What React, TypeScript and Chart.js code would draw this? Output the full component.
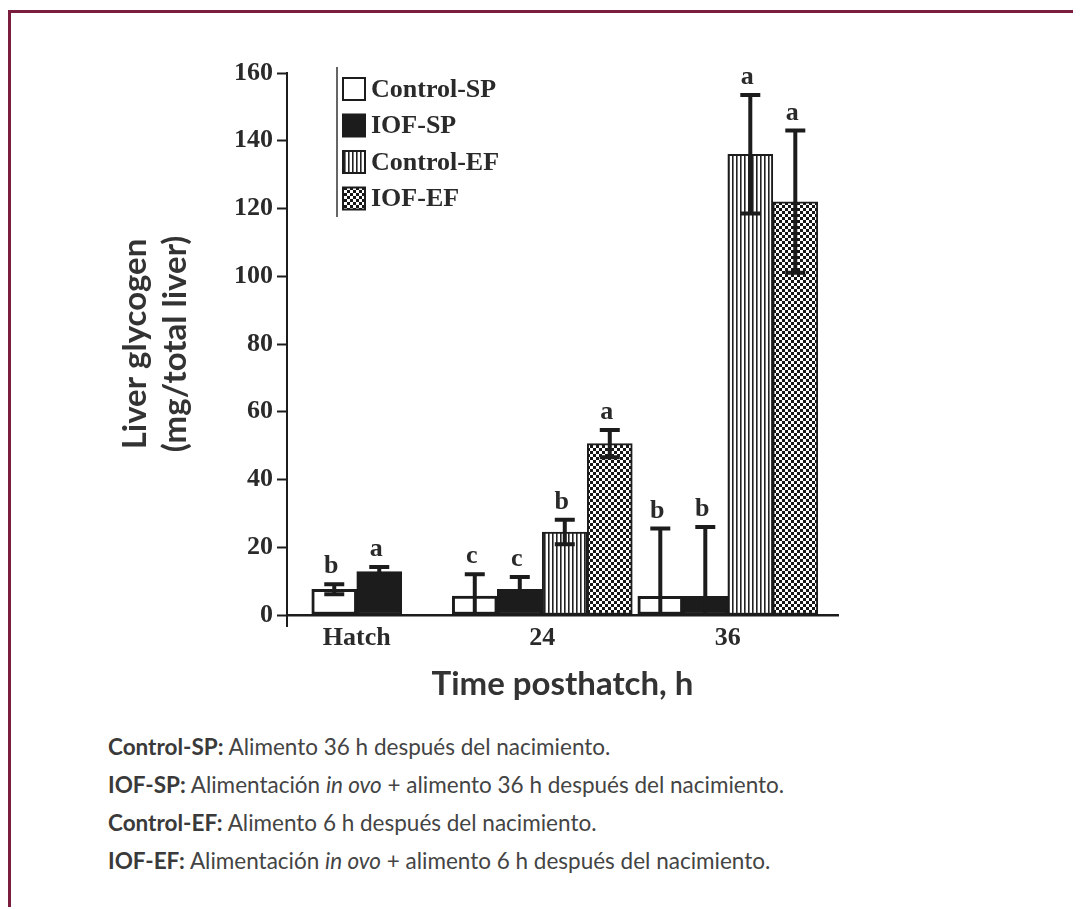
import React, { useEffect, useRef } from 'react';
import { Chart, registerables } from 'chart.js';

Chart.register(...registerables);

// ---- data ----
const categories = ['Hatch', '24', '36'];
const seriesNames = ['Control-SP', 'IOF-SP', 'Control-EF', 'IOF-EF'];

const controlSP = [7.6, 5.6, 5.5];
const iofSP = [12.8, 7.6, 5.5];
const controlEF = [null, 24.5, 136];
const iofEF = [null, 50.6, 122];

const controlSPErr = [1.5, 6.4, 20];
const iofSPErr = [1.4, 3.6, 20.5];
const controlEFErr = [null, 3.6, 17.5];
const iofEFErr = [null, 4, 21];

const controlSPLetters = ['b', 'c', 'b'];
const iofSPLetters = ['a', 'c', 'b'];
const controlEFLetters = [null, 'b', 'a'];
const iofEFLetters = [null, 'a', 'a'];

const yTicks = [0, 20, 40, 60, 80, 100, 120, 140, 160];

const footnotes = [
  { key: 'Control-SP:', parts: [' Alimento 36 h después del nacimiento.'] },
  { key: 'IOF-SP:', parts: [' Alimentación ', 'in ovo', ' + alimento 36 h después del nacimiento.'] },
  { key: 'Control-EF:', parts: [' Alimento 6 h después del nacimiento.'] },
  { key: 'IOF-EF:', parts: [' Alimentación ', 'in ovo', ' + alimento 6 h después del nacimiento.'] },
];

const SERIF = "'Liberation Serif', 'Times New Roman', serif";
const SANS = "Lato, 'Noto Sans', sans-serif";
const INK = '#1c1c1c';

function makeStripe(): CanvasPattern | string {
  const c = document.createElement('canvas');
  c.width = 4; c.height = 4;
  const x = c.getContext('2d');
  if (!x) return '#888';
  x.fillStyle = '#ffffff'; x.fillRect(0, 0, 4, 4);
  x.fillStyle = '#222222'; x.fillRect(0, 0, 1, 4);
  x.fillStyle = '#7a7a7a'; x.fillRect(1, 0, 1, 4);
  return x.createPattern(c, 'repeat') || '#888';
}

function makeChecker(): CanvasPattern | string {
  const c = document.createElement('canvas');
  c.width = 6; c.height = 6;
  const x = c.getContext('2d');
  if (!x) return '#555';
  x.fillStyle = '#161616'; x.fillRect(0, 0, 6, 6);
  x.fillStyle = '#ffffff';
  x.fillRect(0, 0, 3, 3);
  x.fillRect(3, 3, 3, 3);
  return x.createPattern(c, 'repeat') || '#555';
}

const errorPlugin = {
  id: 'errorBarsAndLetters',
  afterDatasetsDraw(chart: any) {
    const ctx = chart.ctx;
    const ys = chart.scales.y;
    chart.data.datasets.forEach((ds: any, di: number) => {
      const meta = chart.getDatasetMeta(di);
      meta.data.forEach((bar: any, i: number) => {
        const pt = ds.data[i];
        if (!pt || pt.y == null) return;
        const v = pt.y;
        const e = ds.errors[i];
        const top = ys.getPixelForValue(v + e);
        const lowVal = v - e;
        const bot = ys.getPixelForValue(Math.max(0, lowVal));
        ctx.save();
        ctx.strokeStyle = INK;
        ctx.lineWidth = 4;
        ctx.lineCap = 'butt';
        ctx.beginPath();
        ctx.moveTo(bar.x, top);
        ctx.lineTo(bar.x, bot);
        ctx.moveTo(bar.x - 10, top);
        ctx.lineTo(bar.x + 10, top);
        if (lowVal > 0) {
          ctx.moveTo(bar.x - 10, bot);
          ctx.lineTo(bar.x + 10, bot);
        }
        ctx.stroke();
        const letter = ds.letters[i];
        if (letter) {
          ctx.fillStyle = '#2a2a2a';
          ctx.font = `bold 26px ${SERIF}`;
          ctx.textAlign = 'center';
          ctx.textBaseline = 'alphabetic';
          ctx.fillText(letter, bar.x - 3, top - 11);
        }
        ctx.restore();
      });
    });
  },
  afterDraw(chart: any) {
    const ctx = chart.ctx;
    const a = chart.chartArea;
    ctx.save();
    // y-axis line continues slightly below the x axis
    ctx.strokeStyle = INK;
    ctx.lineWidth = 2;
    ctx.beginPath();
    ctx.moveTo(a.left, a.bottom);
    ctx.lineTo(a.left, a.bottom + 12);
    ctx.stroke();

    // legend inside the plot
    const lx = a.left + 50;
    ctx.lineWidth = 1.5;
    ctx.strokeStyle = '#333';
    ctx.beginPath();
    ctx.moveTo(lx, a.top - 6);
    ctx.lineTo(lx, a.top + 144);
    ctx.stroke();
    chart.data.datasets.forEach((ds: any, k: number) => {
      const cy = a.top + 16 + k * 36.5;
      ctx.fillStyle = ds.backgroundColor;
      ctx.fillRect(lx + 6, cy - 11, 22, 22);
      ctx.lineWidth = 2;
      ctx.strokeStyle = INK;
      ctx.strokeRect(lx + 6, cy - 11, 22, 22);
      ctx.fillStyle = '#2a2a2a';
      ctx.font = `bold 26px ${SERIF}`;
      ctx.textAlign = 'left';
      ctx.textBaseline = 'middle';
      ctx.fillText(ds.label, lx + 34, cy + 1);
    });
    ctx.restore();
  },
};

export default function App() {
  const ref = useRef<HTMLCanvasElement | null>(null);

  useEffect(() => {
    document.documentElement.style.overflow = 'hidden';
    const canvas = ref.current;
    if (!canvas) return;
    const stripe = makeStripe();
    const checker = makeChecker();
    const toPoints = (vals: (number | null)[]) => vals.map((y, i) => ({ x: i, y }));
    const tickFont = { family: SERIF, weight: 'bold' as const, size: 26 };
    const chart = new Chart(canvas, {
      type: 'bar',
      data: {
        datasets: [
          { label: seriesNames[0], data: toPoints(controlSP), backgroundColor: '#ffffff', errors: controlSPErr, letters: controlSPLetters, borderWidth: 3 } as any,
          { label: seriesNames[1], data: toPoints(iofSP), backgroundColor: INK, errors: iofSPErr, letters: iofSPLetters, borderWidth: 2 } as any,
          { label: seriesNames[2], data: toPoints(controlEF), backgroundColor: stripe, errors: controlEFErr, letters: controlEFLetters, borderWidth: 2 } as any,
          { label: seriesNames[3], data: toPoints(iofEF), backgroundColor: checker, errors: iofEFErr, letters: iofEFLetters, borderWidth: 2 } as any,
        ],
      },
      options: {
        responsive: false,
        animation: false,
        devicePixelRatio: 1,
        layout: { padding: { left: 0, right: 62, top: 33, bottom: 0 } },
        datasets: {
          bar: {
            barThickness: 45,
            skipNull: true,
            borderColor: INK,
            borderSkipped: false,
          } as any,
        },
        plugins: {
          legend: { display: false },
          tooltip: { enabled: false },
        },
        scales: {
          x: {
            type: 'linear',
            offset: false,
            min: -0.376,
            max: 2.594,
            afterBuildTicks: (s: any) => {
              s.ticks = categories.map((_, i) => ({ value: i }));
            },
            ticks: {
              callback: (v: any) => categories[v as number] ?? '',
              autoSkip: false,
              maxRotation: 0,
              padding: 8,
              color: '#2a2a2a',
              font: tickFont,
            },
            grid: { display: false, drawTicks: false },
            border: { display: true, color: INK, width: 2.5 },
            title: {
              display: true,
              text: 'Time posthatch, h',
              color: '#333333',
              font: { family: SANS, weight: 'bold', size: 33 },
              padding: { top: 0, bottom: 16 },
            },
            afterFit: (s: any) => { s.height = 105; },
          } as any,
          y: {
            min: 0,
            max: 160,
            afterBuildTicks: (s: any) => {
              s.ticks = yTicks.map((v) => ({ value: v }));
            },
            ticks: { padding: 4, color: '#2a2a2a', font: tickFont },
            grid: { drawOnChartArea: false, drawTicks: true, tickLength: 10, tickWidth: 2, tickColor: INK },
            border: { display: true, color: INK, width: 2 },
            title: {
              display: true,
              text: ['Liver glycogen', '(mg/total liver)'],
              color: '#333333',
              font: { family: SANS, weight: 'bold', size: 33, lineHeight: 1.22 },
              padding: { top: 35, bottom: 0 },
            },
            afterFit: (s: any) => { s.width = 207; },
          } as any,
        },
      },
      plugins: [errorPlugin],
    });
    return () => chart.destroy();
  }, []);

  return (
    <div
      style={{
        position: 'relative',
        top: 2,
        marginRight: -8,
        height: 899,
        boxSizing: 'border-box',
        borderTop: '3px solid #7b1d3d',
        borderLeft: '3px solid #7b1d3d',
        background: '#fff',
      }}
    >
      <canvas
        ref={ref}
        width={820}
        height={680}
        style={{ position: 'absolute', left: 69, top: 27, width: 820, height: 680 }}
      />
      <div
        style={{
          position: 'absolute',
          left: 97,
          top: 715,
          fontFamily: SANS,
          fontSize: 22.5,
          lineHeight: '38px',
          color: '#444',
        }}
      >
        {footnotes.map((f) => (
          <div key={f.key}>
            <b style={{ color: '#3a3a3a' }}>{f.key}</b>
            {f.parts.map((p, j) => (p === 'in ovo' ? <i key={j}>{p}</i> : <span key={j}>{p}</span>))}
          </div>
        ))}
      </div>
    </div>
  );
}
